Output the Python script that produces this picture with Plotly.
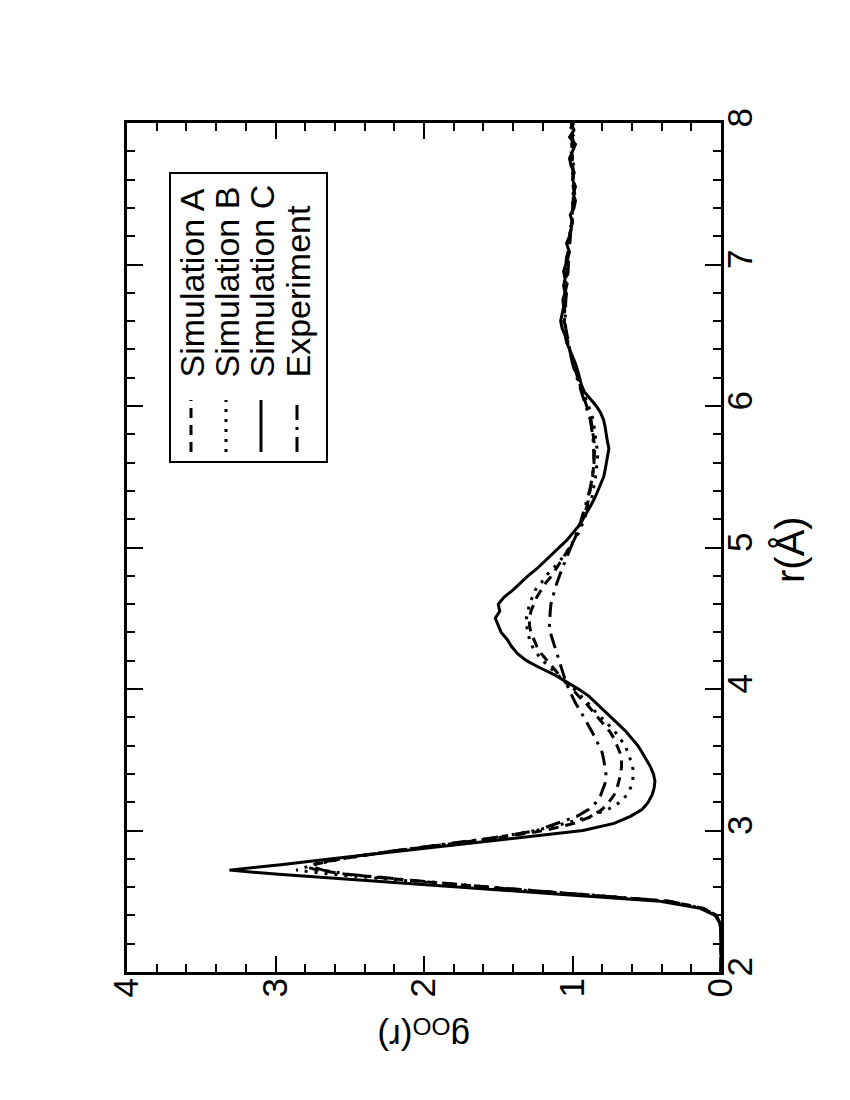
import plotly.graph_objects as go

# r grid (Angstrom)
r = [2.00, 2.10, 2.20, 2.30, 2.35, 2.40, 2.45, 2.50, 2.55, 2.60, 2.65, 2.69, 2.72, 2.74, 2.76, 2.80, 2.85, 2.90, 2.95,
     3.00, 3.05, 3.10, 3.15, 3.20, 3.25, 3.30, 3.35, 3.40, 3.45, 3.50, 3.55, 3.60, 3.65, 3.70, 3.75, 3.80, 3.85, 3.90, 3.95,
     4.00, 4.05, 4.10, 4.15, 4.20, 4.25, 4.30, 4.35, 4.40, 4.45, 4.50, 4.55, 4.60, 4.65, 4.70, 4.75, 4.80, 4.85, 4.90, 4.95,
     5.00, 5.05, 5.10, 5.15, 5.20, 5.25, 5.30, 5.35, 5.40, 5.45, 5.50, 5.55, 5.60, 5.65, 5.70, 5.75, 5.80, 5.85, 5.90, 5.95,
     6.00, 6.05, 6.10, 6.15, 6.20, 6.25, 6.30, 6.35, 6.40, 6.45, 6.50, 6.55, 6.60, 6.65, 6.70, 6.75, 6.80, 6.85, 6.90, 6.95,
     7.00, 7.05, 7.10, 7.15, 7.20, 7.25, 7.30, 7.35, 7.40, 7.45, 7.50, 7.55, 7.60, 7.65, 7.70, 7.75, 7.80, 7.85, 7.90, 7.95,
     8.00]

sim_a = [0, 0, 0, 0, 0.01, 0.03, 0.12, 0.35, 0.96, 1.58, 2.12, 2.52, 2.72, 2.78, 2.74, 2.56, 2.24, 1.86, 1.49,
         1.19, 0.99, 0.87, 0.80, 0.755, 0.72, 0.70, 0.685, 0.675, 0.67, 0.67, 0.68, 0.70, 0.72, 0.75, 0.79, 0.83, 0.87, 0.91, 0.96,
         1.00, 1.05, 1.09, 1.13, 1.17, 1.21, 1.24, 1.26, 1.28, 1.29, 1.29, 1.28, 1.26, 1.24, 1.21, 1.18, 1.14, 1.11, 1.08, 1.05,
         1.02, 0.99, 0.97, 0.95, 0.93, 0.915, 0.90, 0.89, 0.88, 0.87, 0.865, 0.86, 0.855, 0.85, 0.85, 0.855, 0.86, 0.865, 0.875, 0.89,
         0.905, 0.92, 0.94, 0.955, 0.97, 0.985, 0.995, 1.01, 1.02, 1.035, 1.04, 1.05, 1.055, 1.05, 1.055, 1.045, 1.05, 1.04, 1.045, 1.035,
         1.04, 1.03, 1.02, 1.025, 1.015, 1.02, 1.00, 1.005, 0.995, 1.00, 0.985, 0.995, 1.00, 0.99, 1.005, 1.00, 1.01, 0.99, 1.00, 1.02,
         0.99]

sim_b = [0, 0, 0, 0, 0.01, 0.03, 0.12, 0.36, 0.98, 1.62, 2.17, 2.62, 2.86, 2.80, 2.74, 2.55, 2.24, 1.87, 1.52,
         1.25, 1.05, 0.88, 0.76, 0.68, 0.635, 0.61, 0.595, 0.59, 0.595, 0.61, 0.625, 0.645, 0.68, 0.715, 0.76, 0.81, 0.855, 0.895, 0.94,
         0.99, 1.05, 1.10, 1.15, 1.20, 1.24, 1.27, 1.29, 1.30, 1.31, 1.31, 1.30, 1.29, 1.27, 1.25, 1.21, 1.18, 1.13, 1.09, 1.05,
         1.02, 0.99, 0.96, 0.94, 0.92, 0.90, 0.885, 0.87, 0.86, 0.85, 0.845, 0.84, 0.835, 0.83, 0.835, 0.84, 0.845, 0.85, 0.86, 0.875,
         0.89, 0.91, 0.93, 0.95, 0.965, 0.98, 0.99, 1.005, 1.02, 1.03, 1.045, 1.05, 1.06, 1.055, 1.05, 1.055, 1.045, 1.05, 1.04, 1.045,
         1.035, 1.03, 1.03, 1.02, 1.025, 1.01, 1.005, 1.00, 1.005, 0.99, 0.995, 0.99, 0.995, 1.00, 0.99, 1.01, 1.00, 1.005, 0.99, 1.01,
         1.00]

sim_c = [0, 0, 0, 0, 0.01, 0.04, 0.14, 0.41, 1.09, 1.76, 2.44, 2.98, 3.31, 3.12, 2.95, 2.62, 2.19, 1.77, 1.35,
         0.93, 0.72, 0.61, 0.53, 0.49, 0.465, 0.45, 0.445, 0.455, 0.475, 0.50, 0.53, 0.56, 0.60, 0.64, 0.69, 0.74, 0.79, 0.84, 0.89,
         0.96, 1.04, 1.12, 1.22, 1.31, 1.37, 1.41, 1.44, 1.48, 1.50, 1.52, 1.49, 1.50, 1.46, 1.40, 1.35, 1.30, 1.24, 1.19, 1.14,
         1.09, 1.04, 1.00, 0.96, 0.93, 0.90, 0.875, 0.85, 0.83, 0.805, 0.79, 0.78, 0.77, 0.765, 0.755, 0.765, 0.77, 0.78, 0.79, 0.81,
         0.84, 0.88, 0.92, 0.94, 0.95, 0.965, 0.98, 1.00, 1.02, 1.04, 1.05, 1.07, 1.08, 1.07, 1.06, 1.065, 1.05, 1.06, 1.05, 1.06,
         1.045, 1.04, 1.025, 1.04, 1.02, 1.01, 1.00, 1.015, 0.99, 0.98, 0.995, 0.98, 1.00, 0.99, 1.01, 1.02, 1.00, 0.98, 1.02, 0.99,
         1.01]

experiment = [0, 0, 0, 0, 0.01, 0.03, 0.12, 0.35, 0.95, 1.56, 2.10, 2.50, 2.68, 2.74, 2.75, 2.58, 2.25, 1.88, 1.52,
              1.24, 1.10, 0.97, 0.89, 0.84, 0.81, 0.79, 0.775, 0.775, 0.78, 0.79, 0.80, 0.82, 0.845, 0.87, 0.895, 0.92, 0.95, 0.98, 1.005,
              1.025, 1.045, 1.06, 1.075, 1.09, 1.11, 1.125, 1.14, 1.15, 1.155, 1.155, 1.15, 1.145, 1.135, 1.12, 1.105, 1.09, 1.07, 1.05, 1.03,
              1.01, 0.99, 0.97, 0.955, 0.94, 0.925, 0.91, 0.895, 0.885, 0.875, 0.865, 0.86, 0.855, 0.855, 0.855, 0.86, 0.865, 0.87, 0.88, 0.895,
              0.91, 0.925, 0.945, 0.96, 0.975, 0.99, 1.00, 1.01, 1.02, 1.03, 1.04, 1.045, 1.05, 1.05, 1.05, 1.045, 1.04, 1.04, 1.035, 1.03,
              1.03, 1.025, 1.02, 1.02, 1.015, 1.01, 1.005, 1.00, 1.00, 0.995, 0.995, 0.99, 0.995, 0.995, 1.00, 1.00, 1.005, 1.00, 1.00, 1.00,
              1.00]

series_names = ["Simulation A", "Simulation B", "Simulation C", "Experiment"]
series_values = [sim_a, sim_b, sim_c, experiment]
series_dash = ["10px,7px", "3px,7px", "solid", "15px,7px,3px,7px"]

r_ticks = [2, 3, 4, 5, 6, 7, 8]
g_ticks = [0, 1, 2, 3, 4]

FONT = "Liberation Sans, Arial, Helvetica, sans-serif"
W, H = 850, 1100
L, R, T, B = 127, 721, 123, 972  # plot area in pixels


def px(x):
    return (x - L) / (R - L)


def py(y):
    return (B - y) / (B - T)


fig = go.Figure()
for name, vals, dash in zip(series_names, series_values, series_dash):
    fig.add_trace(go.Scatter(x=vals, y=r, mode="lines", name=name,
                             line=dict(color="black", width=3, dash=dash),
                             showlegend=False, hoverinfo="skip"))

axis_common = dict(showgrid=False, zeroline=False, showline=True, linecolor="black", linewidth=3,
                   mirror="ticks", ticks="inside", ticklen=16, tickwidth=2, tickcolor="black",
                   tickangle=-90, tickfont=dict(family=FONT, size=35, color="black"),
                   automargin=False,
                   minor=dict(dtick=0.2, ticks="inside", ticklen=8, tickwidth=2, tickcolor="black"))

fig.update_xaxes(range=[4, 0], tickvals=g_ticks, ticktext=[str(v) for v in g_ticks],
                 ticklabelstandoff=-11, **axis_common)
fig.update_yaxes(range=[2, 8], side="right", tickvals=r_ticks, ticktext=[str(v) for v in r_ticks],
                 ticklabelstandoff=-14, **axis_common)

annotations = [
    dict(text="r(Å)", x=px(790), y=py(550), xref="paper", yref="paper", showarrow=False,
         textangle=-90, font=dict(family=FONT, size=40, color="black"), xanchor="center", yanchor="middle"),
    dict(text="g<sub>OO</sub>(r)", x=0.5, y=py(1035), xref="paper", yref="paper", showarrow=False,
         textangle=180, font=dict(family=FONT, size=35, color="black"), xanchor="center", yanchor="middle"),
]

shapes = [dict(type="rect", xref="paper", yref="paper", x0=px(170), x1=px(327), y0=py(462), y1=py(173),
               line=dict(color="black", width=2), fillcolor="white", layer="below")]

leg_x = [191, 226, 261, 297]
for xc, name, dash in zip(leg_x, series_names, series_dash):
    shapes.append(dict(type="line", xref="paper", yref="paper", x0=px(xc), x1=px(xc), y0=py(452), y1=py(400),
                       line=dict(color="black", width=3, dash=dash)))
    annotations.append(dict(text=name, x=px(xc), y=py(380), xref="paper", yref="paper", showarrow=False,
                            textangle=-90, font=dict(family=FONT, size=34, color="black"),
                            xanchor="center", yanchor="bottom"))

fig.update_layout(width=W, height=H, margin=dict(l=L, r=W - R, t=T, b=H - B, autoexpand=False),
                  plot_bgcolor="white", paper_bgcolor="white", hovermode=False,
                  annotations=annotations, shapes=shapes, showlegend=False)

fig.write_html("out.html", config={"displayModeBar": False, "staticPlot": True},
               post_script="document.body.style.margin='0px';")
